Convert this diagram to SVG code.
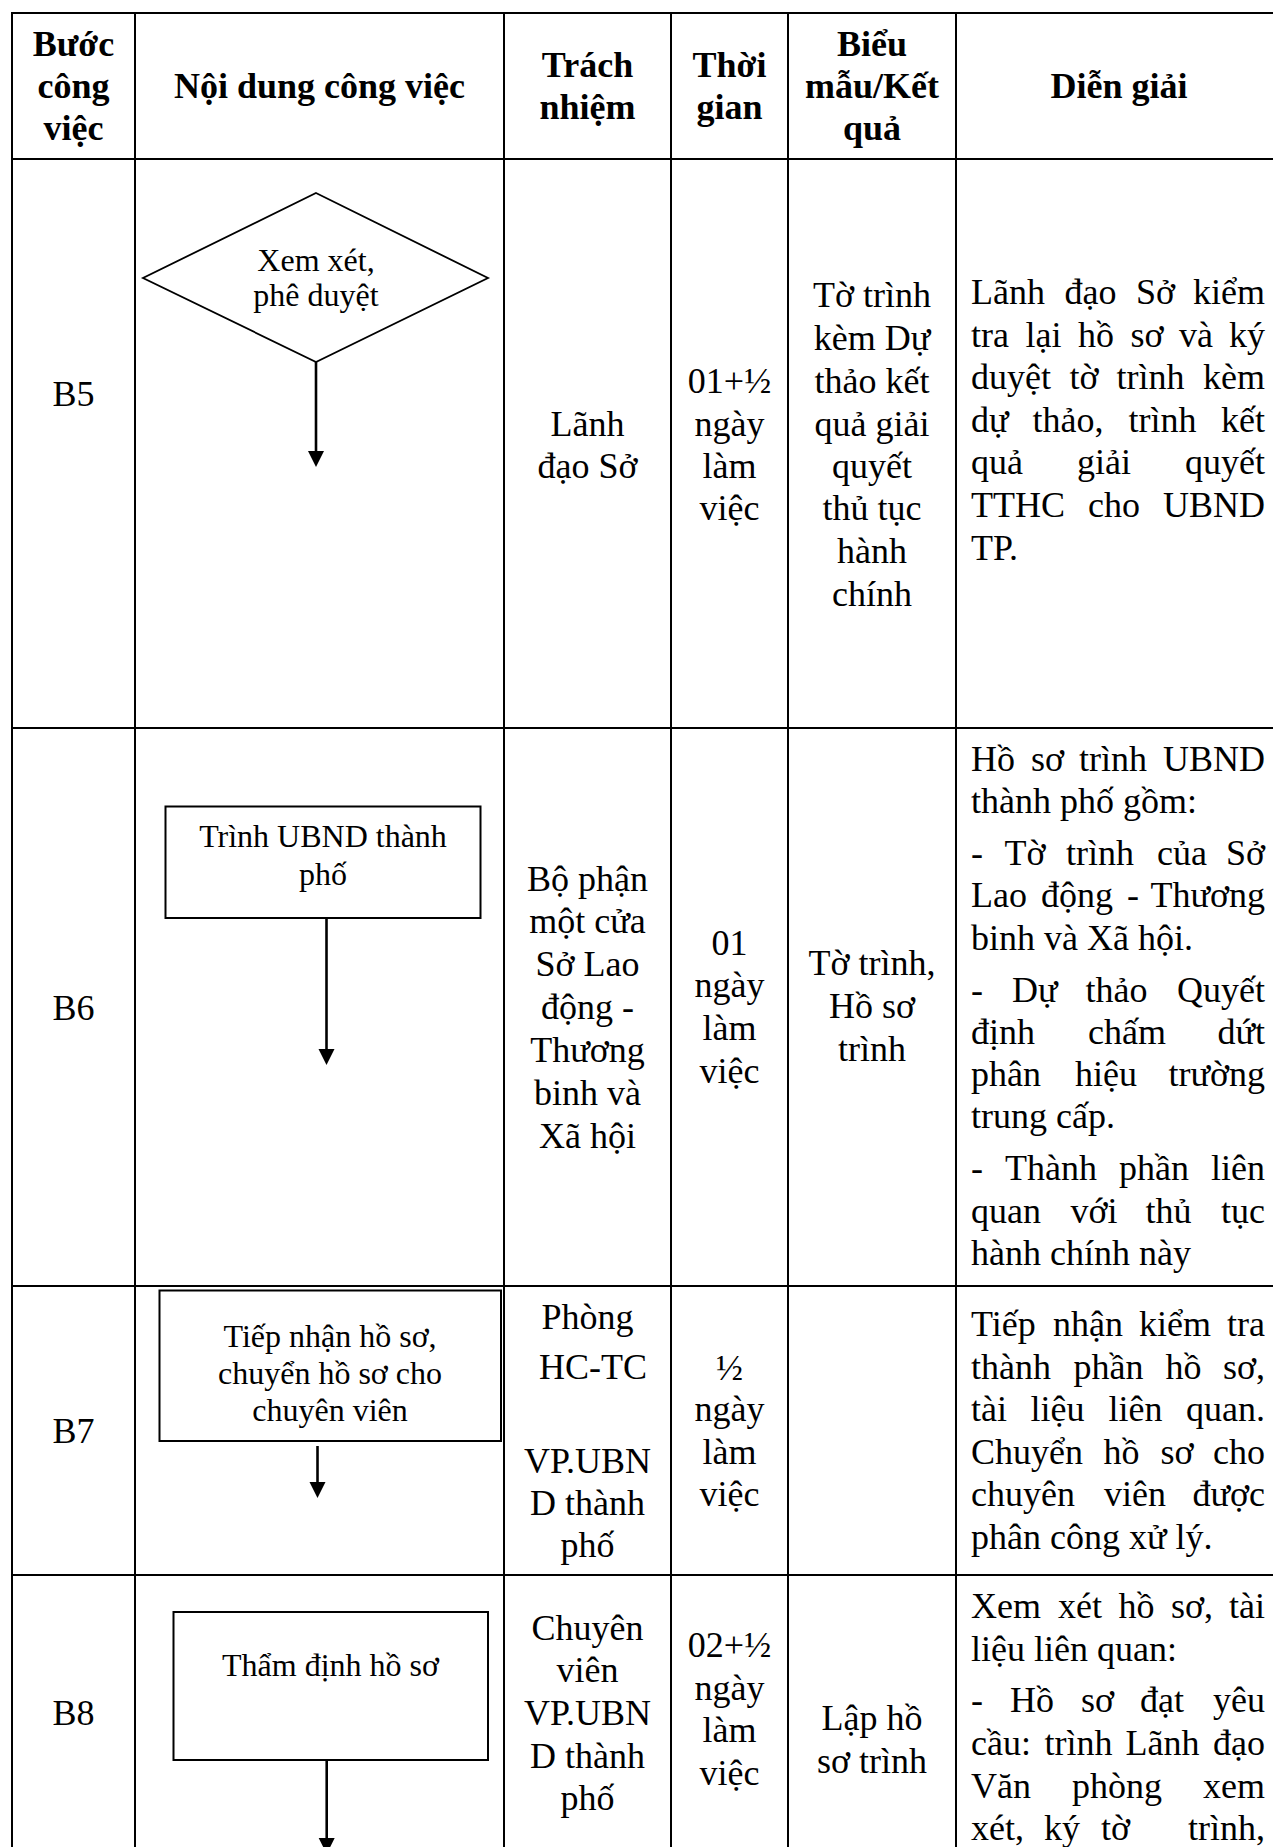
<svg xmlns="http://www.w3.org/2000/svg" width="1273" height="1847" viewBox="0 0 1273 1847">
<style>
.t{font-family:"Liberation Serif","Times New Roman",serif;font-size:36px;fill:#000}
.h{font-weight:bold}
.c{text-anchor:middle}
.e{text-anchor:end}
.s{font-size:32px}
.grid line{stroke:#000;stroke-width:2}
.shape{fill:#fff;stroke:#000;stroke-width:2}
.conn line{stroke:#000;stroke-width:2.6}
</style>
<defs>
<marker id="ah" markerUnits="userSpaceOnUse" markerWidth="18" markerHeight="18" viewBox="0 -9 18 18" refX="0" refY="0" orient="auto">
<path d="M0,-8 L16,0 L0,8 z" fill="#000"/>
</marker>
</defs>
<rect width="1273" height="1847" fill="#fff"/>
<g id="grid" class="grid">
<line x1="12" y1="13" x2="1273" y2="13"/>
<line x1="12" y1="159" x2="1273" y2="159"/>
<line x1="12" y1="728" x2="1273" y2="728"/>
<line x1="12" y1="1286" x2="1273" y2="1286"/>
<line x1="12" y1="1575" x2="1273" y2="1575"/>
<line x1="12" y1="12" x2="12" y2="1847"/>
<line x1="135" y1="12" x2="135" y2="1847"/>
<line x1="504" y1="12" x2="504" y2="1847"/>
<line x1="671" y1="12" x2="671" y2="1847"/>
<line x1="788" y1="12" x2="788" y2="1847"/>
<line x1="956" y1="12" x2="956" y2="1847"/>
</g>
<g id="header" class="t h c">
<text x="73.5" y="56">Bước</text>
<text x="73.5" y="98">công</text>
<text x="73.5" y="140">việc</text>
<text x="319.5" y="98">Nội dung công việc</text>
<text x="587.5" y="77">Trách</text>
<text x="587.5" y="119">nhiệm</text>
<text x="729.5" y="77">Thời</text>
<text x="729.5" y="119">gian</text>
<text x="872" y="56">Biểu</text>
<text x="872" y="98">mẫu/Kết</text>
<text x="872" y="140">quả</text>
<text x="1119" y="98">Diễn giải</text>
</g>
<g id="connectors" class="conn">
<line x1="316" y1="362" x2="316" y2="451" marker-end="url(#ah)"/>
<line x1="326.5" y1="918" x2="326.5" y2="1049" marker-end="url(#ah)"/>
<line x1="317.5" y1="1446" x2="317.5" y2="1482" marker-end="url(#ah)"/>
<line x1="326.7" y1="1760" x2="326.7" y2="1838" marker-end="url(#ah)"/>
</g>
<g id="n-b5">
<polygon class="shape" points="316,193 488,278 316,362 143,278" style="stroke-width:1.8"/>
<text class="t s c" x="316" y="271">Xem xét,</text>
<text class="t s c" x="316" y="306">phê duyệt</text>
</g>
<g id="n-b6">
<rect class="shape" x="165.5" y="806.5" width="315" height="111.5"/>
<text class="t s c" x="323" y="846.5">Trình UBND thành</text>
<text class="t s c" x="323" y="884.5">phố</text>
</g>
<g id="n-b7">
<rect class="shape" x="159.5" y="1290.5" width="341.5" height="150.5"/>
<text class="t s c" x="330" y="1347">Tiếp nhận hồ sơ,</text>
<text class="t s c" x="330" y="1384">chuyển hồ sơ cho</text>
<text class="t s c" x="330" y="1421">chuyên viên</text>
</g>
<g id="n-b8">
<rect class="shape" x="173.5" y="1612" width="314.5" height="148"/>
<text class="t s c" x="330.5" y="1676">Thẩm định hồ sơ</text>
</g>
<g id="row-b5" class="t">
<text class="c" x="73.5" y="406">B5</text>
<text class="c" x="587.5" y="436">Lãnh</text>
<text class="c" x="587.5" y="478">đạo Sở</text>
<text class="c" x="729.5" y="393">01+½</text>
<text class="c" x="729.5" y="436">ngày</text>
<text class="c" x="729.5" y="478">làm</text>
<text class="c" x="729.5" y="520">việc</text>
<text class="c" x="872" y="307">Tờ trình</text>
<text class="c" x="872" y="350">kèm Dự</text>
<text class="c" x="872" y="393">thảo kết</text>
<text class="c" x="872" y="436">quả giải</text>
<text class="c" x="872" y="478">quyết</text>
<text class="c" x="872" y="520">thủ tục</text>
<text class="c" x="872" y="563">hành</text>
<text class="c" x="872" y="606">chính</text>
<text y="304"><tspan x="971">Lãnh</tspan><tspan x="1064.5">đạo</tspan><tspan x="1136">Sở</tspan><tspan class="e" x="1265">kiểm</tspan></text>
<text y="347"><tspan x="971">tra</tspan><tspan x="1025.5">lại</tspan><tspan x="1078">hồ</tspan><tspan x="1130.5">sơ</tspan><tspan x="1179">và</tspan><tspan class="e" x="1265">ký</tspan></text>
<text y="389"><tspan x="971">duyệt</tspan><tspan x="1069.5">tờ</tspan><tspan x="1116.5">trình</tspan><tspan class="e" x="1265">kèm</tspan></text>
<text y="432"><tspan x="971">dự</tspan><tspan x="1032.5">thảo,</tspan><tspan x="1128.5">trình</tspan><tspan class="e" x="1265">kết</tspan></text>
<text y="474"><tspan x="971">quả</tspan><tspan x="1077">giải</tspan><tspan class="e" x="1265">quyết</tspan></text>
<text y="517"><tspan x="971">TTHC</tspan><tspan x="1088">cho</tspan><tspan class="e" x="1265">UBND</tspan></text>
<text x="971" y="560">TP.</text>
</g>
<g id="row-b6" class="t">
<text class="c" x="73.5" y="1020">B6</text>
<text class="c" x="587.5" y="891">Bộ phận</text>
<text class="c" x="587.5" y="933">một cửa</text>
<text class="c" x="587.5" y="976">Sở Lao</text>
<text class="c" x="587.5" y="1019">động -</text>
<text class="c" x="587.5" y="1062">Thương</text>
<text class="c" x="587.5" y="1105">binh và</text>
<text class="c" x="587.5" y="1148">Xã hội</text>
<text class="c" x="729.5" y="955">01</text>
<text class="c" x="729.5" y="997">ngày</text>
<text class="c" x="729.5" y="1040">làm</text>
<text class="c" x="729.5" y="1083">việc</text>
<text class="c" x="872" y="975">Tờ trình,</text>
<text class="c" x="872" y="1018">Hồ sơ</text>
<text class="c" x="872" y="1061">trình</text>
<text y="771"><tspan x="971">Hồ</tspan><tspan x="1031">sơ</tspan><tspan x="1079">trình</tspan><tspan class="e" x="1265">UBND</tspan></text>
<text x="971" y="813">thành phố gồm:</text>
<text y="865"><tspan x="971">-</tspan><tspan x="1004.5">Tờ</tspan><tspan x="1066">trình</tspan><tspan x="1157">của</tspan><tspan class="e" x="1265">Sở</tspan></text>
<text y="907"><tspan x="971">Lao</tspan><tspan x="1041">động</tspan><tspan x="1127">-</tspan><tspan class="e" x="1265">Thương</tspan></text>
<text x="971" y="950">binh và Xã hội.</text>
<text y="1002"><tspan x="971">-</tspan><tspan x="1012">Dự</tspan><tspan x="1085.5">thảo</tspan><tspan class="e" x="1265">Quyết</tspan></text>
<text y="1044"><tspan x="971">định</tspan><tspan x="1088">chấm</tspan><tspan class="e" x="1265">dứt</tspan></text>
<text y="1086"><tspan x="971">phân</tspan><tspan x="1075">hiệu</tspan><tspan class="e" x="1265">trường</tspan></text>
<text x="971" y="1128">trung cấp.</text>
<text y="1180"><tspan x="971">-</tspan><tspan x="1005">Thành</tspan><tspan x="1119">phần</tspan><tspan class="e" x="1265">liên</tspan></text>
<text y="1223"><tspan x="971">quan</tspan><tspan x="1070.5">với</tspan><tspan x="1145.5">thủ</tspan><tspan class="e" x="1265">tục</tspan></text>
<text x="971" y="1265">hành chính này</text>
</g>
<g id="row-b7" class="t">
<text class="c" x="73.5" y="1443">B7</text>
<text class="c" x="587.5" y="1329">Phòng</text>
<text class="c" x="593" y="1379">HC-TC</text>
<text class="c" x="587.5" y="1473">VP.UBN</text>
<text class="c" x="587.5" y="1515">D thành</text>
<text class="c" x="587.5" y="1557">phố</text>
<text class="c" x="729.5" y="1380">½</text>
<text class="c" x="729.5" y="1421">ngày</text>
<text class="c" x="729.5" y="1464">làm</text>
<text class="c" x="729.5" y="1506">việc</text>
<text y="1336"><tspan x="971">Tiếp</tspan><tspan x="1053">nhận</tspan><tspan x="1139">kiểm</tspan><tspan class="e" x="1265">tra</tspan></text>
<text y="1379"><tspan x="971">thành</tspan><tspan x="1073.5">phần</tspan><tspan x="1165.5">hồ</tspan><tspan class="e" x="1265">sơ,</tspan></text>
<text y="1421"><tspan x="971">tài</tspan><tspan x="1030.5">liệu</tspan><tspan x="1108.5">liên</tspan><tspan class="e" x="1265">quan.</tspan></text>
<text y="1464"><tspan x="971">Chuyển</tspan><tspan x="1103.5">hồ</tspan><tspan x="1160.5">sơ</tspan><tspan class="e" x="1265">cho</tspan></text>
<text y="1506"><tspan x="971">chuyên</tspan><tspan x="1104">viên</tspan><tspan class="e" x="1265">được</tspan></text>
<text x="971" y="1549">phân công xử lý.</text>
</g>
<g id="row-b8" class="t">
<text class="c" x="73.5" y="1725">B8</text>
<text class="c" x="587.5" y="1640">Chuyên</text>
<text class="c" x="587.5" y="1682">viên</text>
<text class="c" x="587.5" y="1725">VP.UBN</text>
<text class="c" x="587.5" y="1768">D thành</text>
<text class="c" x="587.5" y="1810">phố</text>
<text class="c" x="729.5" y="1657">02+½</text>
<text class="c" x="729.5" y="1700">ngày</text>
<text class="c" x="729.5" y="1742">làm</text>
<text class="c" x="729.5" y="1785">việc</text>
<text class="c" x="872" y="1730">Lập hồ</text>
<text class="c" x="872" y="1773">sơ trình</text>
<text y="1618"><tspan x="971">Xem</tspan><tspan x="1058">xét</tspan><tspan x="1118.5">hồ</tspan><tspan x="1171">sơ,</tspan><tspan class="e" x="1265">tài</tspan></text>
<text x="971" y="1661">liệu liên quan:</text>
<text y="1712"><tspan x="971">-</tspan><tspan x="1010">Hồ</tspan><tspan x="1081">sơ</tspan><tspan x="1140">đạt</tspan><tspan class="e" x="1265">yêu</tspan></text>
<text y="1755"><tspan x="971">cầu:</tspan><tspan x="1044.5">trình</tspan><tspan x="1125.5">Lãnh</tspan><tspan class="e" x="1265">đạo</tspan></text>
<text y="1798"><tspan x="971">Văn</tspan><tspan x="1072">phòng</tspan><tspan class="e" x="1265">xem</tspan></text>
<text y="1840"><tspan x="971">xét,</tspan><tspan x="1044">ký</tspan><tspan x="1101">tờ</tspan><tspan class="e" x="1265">trình,</tspan></text>
</g>
</svg>
